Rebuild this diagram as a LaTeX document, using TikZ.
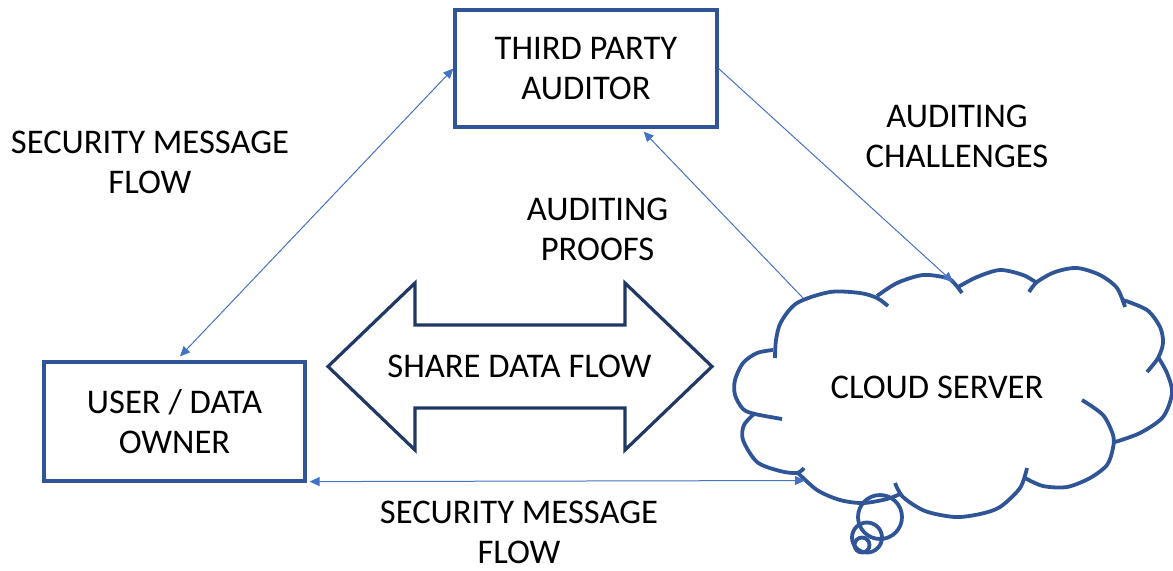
\documentclass[tikz,border=0pt]{standalone}
\usepackage{fontspec}
\setmainfont{Carlito}
\usepackage{tikz}
\usetikzlibrary{calc,arrows.meta}
\definecolor{boxblue}{HTML}{2F5597}
\definecolor{arrnavy}{HTML}{203864}
\definecolor{linkblue}{HTML}{4472C4}
\tikzset{
  party/.style={draw=boxblue,line width=1.6pt,align=center,inner sep=0pt},
  flowtext/.style={align=center,inner sep=0pt},
  link/.style={draw=linkblue,line width=0.5pt},
  cloudline/.style={draw=boxblue,line width=1.9pt},
  >={Triangle[length=5pt,width=4.5pt]}
}
\begin{document}
\begin{tikzpicture}[x=0.5pt,y=-0.5pt,font=\fontsize{17.3}{20}\selectfont]
  \useasboundingbox (0,0) rectangle (1173,570);
  \node[party,minimum width=131pt,minimum height=58.5pt](tpa)at(586,68.5){THIRD PARTY\\AUDITOR};
  \node[party,minimum width=130.5pt,minimum height=59.5pt](user)at(174.5,421.5){USER / DATA\\OWNER};

  % cloud server, drawn lobe by lobe
  \draw[cloudline] plot[smooth] coordinates {(773,350)(757,353)(743,363)(735,380)(735,395)(743,409)(755,414)(782,419)};
  \draw[cloudline] plot[smooth] coordinates {(755,413)(744,425)(743,440)(757,462)(780,471)(797,473)(804,468)};
  \draw[cloudline] plot[smooth] coordinates {(797,472)(817,490)(840,500)(863,503)(887,499)(900,494)};
  \draw[cloudline] plot[smooth] coordinates {(895,483)(903,497)(925,511)(955,517)(980,514)(1000,507)(1020,488)(1027,468)};
  \draw[cloudline] plot[smooth] coordinates {(1025,478)(1043,486)(1067,487)(1090,478)(1107,465)(1113,448)(1113,435)(1103,415)(1082,400)};
  \draw[cloudline] plot[smooth] coordinates {(1158,357)(1167,373)(1172,393)(1163,417)(1140,433)(1115,442)};
  \draw[cloudline] plot[smooth] coordinates {(1123,300)(1147,310)(1160,327)(1163,343)(1158,358)(1147,372)};
  \draw[cloudline] plot[smooth] coordinates {(1029,292)(1037,282)(1055,272)(1077,268)(1100,275)(1117,288)(1125,307)};
  \draw[cloudline] plot[smooth] coordinates {(958,287)(977,277)(1000,270)(1023,275)(1037,283)};
  \draw[cloudline] plot[smooth] coordinates {(877,296)(897,283)(923,275)(947,278)(955,284)(962,293)};
  \draw[cloudline] plot[smooth] coordinates {(775,358)(776,340)(781,322)(797,303)(830,292)(860,293)(877,298)(888,306)};
  \foreach \x/\y/\r in {880/517/22,867/537.5/15,862/545/7.5}{
    \draw[cloudline] (\x,\y) circle(\r);
  }
  \node(cloud)at(937,387){CLOUD SERVER};

  \coordinate(cstop)at(953,282);
  \coordinate(csleft)at(803,298);
  \coordinate(csbot)at(805,480.5);

  \node[flowtext](share)at(519.5,366){SHARE DATA FLOW};
  \draw[draw=arrnavy,line width=1.6pt](328,366.5)--(415,283)--(415,325)--(625,325)--(625,283)--(712,366.5)
    --(625,450)--(625,408)--(415,408)--(415,450)--cycle;

  \draw[link,<->](tpa.west)--($(user.north)+(5.5,-4)$);
  \draw[link,->](tpa.east)--(cstop);
  \draw[link,->](csleft)--($(tpa.south east)+(-75,3)$);
  \draw[link,<->]($(user.south east)+(3,-1)$)--(csbot);

  \node[flowtext](secleft)at(150,162){SECURITY MESSAGE\\FLOW};
  \node[flowtext](proofs)at(597.5,229){AUDITING\\PROOFS};
  \node[flowtext](chall)at(957,136){AUDITING\\CHALLENGES};
  \node[flowtext](secbot)at(519,532){SECURITY MESSAGE\\FLOW};
\end{tikzpicture}
\end{document}
